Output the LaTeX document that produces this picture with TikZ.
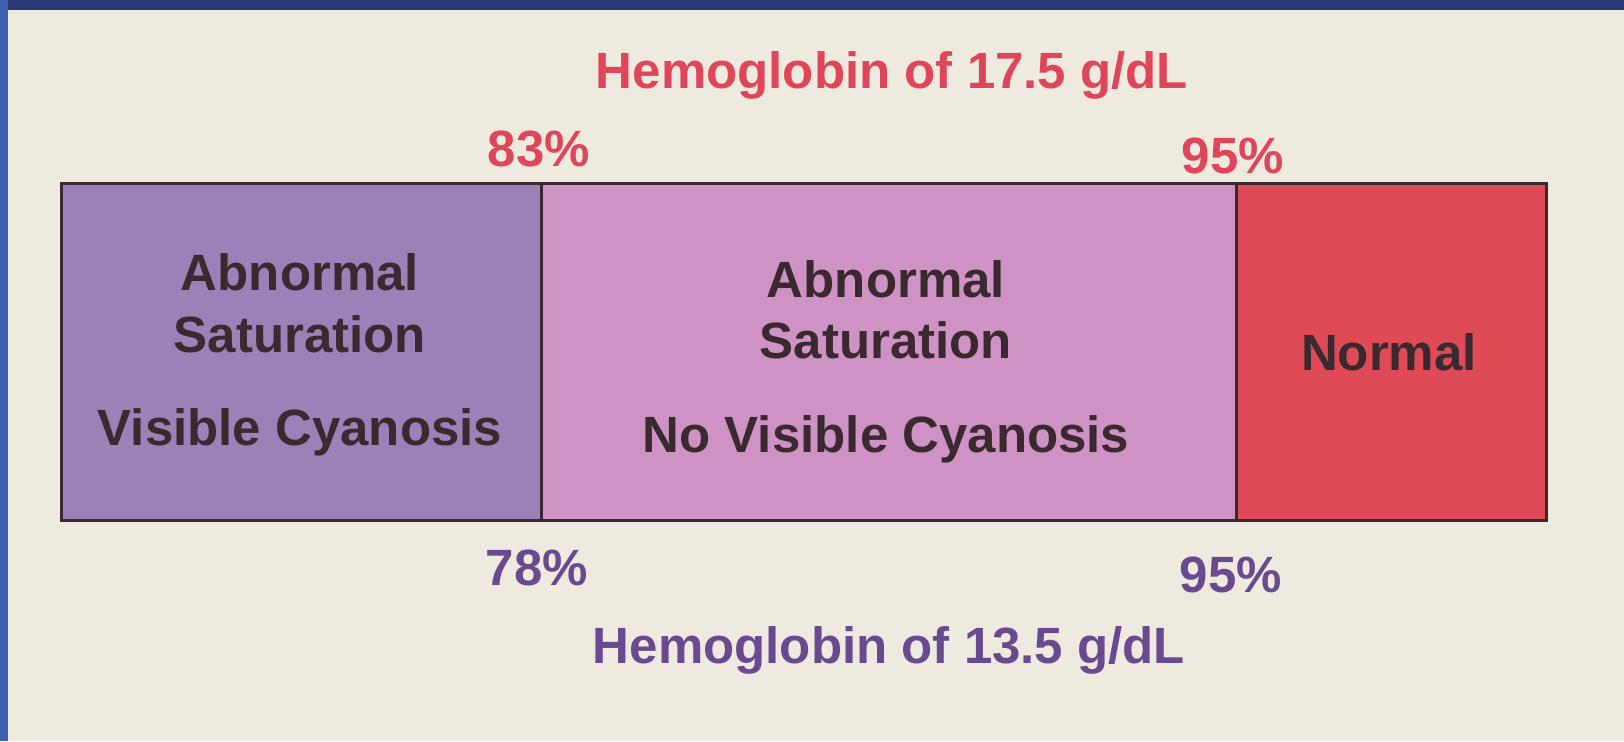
\documentclass[tikz,border=0pt]{standalone}
\usepackage{fontspec}
\setmainfont{Liberation Sans}
\definecolor{paper}{HTML}{EEEADF}
\definecolor{bluetop}{HTML}{28397A}
\definecolor{blueleft}{HTML}{3E5FAE}
\definecolor{cyanfill}{HTML}{9C80B8}
\definecolor{pinkfill}{HTML}{CF92C5}
\definecolor{redfill}{HTML}{DE4A55}
\definecolor{inktext}{HTML}{3A2A30}
\definecolor{redlabel}{HTML}{E0465A}
\definecolor{purplelabel}{HTML}{6A4A8E}
\begin{document}
\begin{tikzpicture}[x=0.5pt,y=-0.5pt,
  zone/.style={draw=inktext, line width=1.4pt, minimum height=168.5pt, inner sep=0pt, anchor=north west},
  txt/.style={font=\fontsize{25.5}{30}\selectfont\bfseries, text=inktext, anchor=base, inner sep=0pt},
  toplab/.style={txt, text=redlabel},
  botlab/.style={txt, text=purplelabel}]
\useasboundingbox (0,0) rectangle (1624,741);
\fill[paper] (0,0) rectangle (1624,741);
\fill[bluetop] (0,0) rectangle (1624,10);
\fill[blueleft] (0,0) rectangle (8,741);

\node[zone, fill=cyanfill, minimum width=240pt] (vis) at (60,182) {};
\node[zone, fill=pinkfill, minimum width=347.5pt] (novis) at (540,182) {};
\node[zone, fill=redfill, minimum width=155pt] (norm) at (1235,182) {};

\node[txt] (a1) at (300,290) {Abnormal};
\node[txt] (s1) at (300,352) {Saturation};
\node[txt] (v1) at (300,445) {Visible Cyanosis};
\node[txt] (a2) at (886,297) {Abnormal};
\node[txt] (s2) at (886,358) {Saturation};
\node[txt] (v2) at (886,452) {No Visible Cyanosis};
\node[txt] (n3) at (1389,370) {Normal};

\node[toplab] (t1) at (892,88) {Hemoglobin of 17.5 g/dL};
\node[toplab] (p83) at (539,166) {83\%};
\node[toplab] (p95a) at (1233,173) {95\%};
\node[botlab] (p78) at (537,585) {78\%};
\node[botlab] (p95b) at (1231,592) {95\%};
\node[botlab] (t2) at (889,663) {Hemoglobin of 13.5 g/dL};
\end{tikzpicture}
\end{document}
